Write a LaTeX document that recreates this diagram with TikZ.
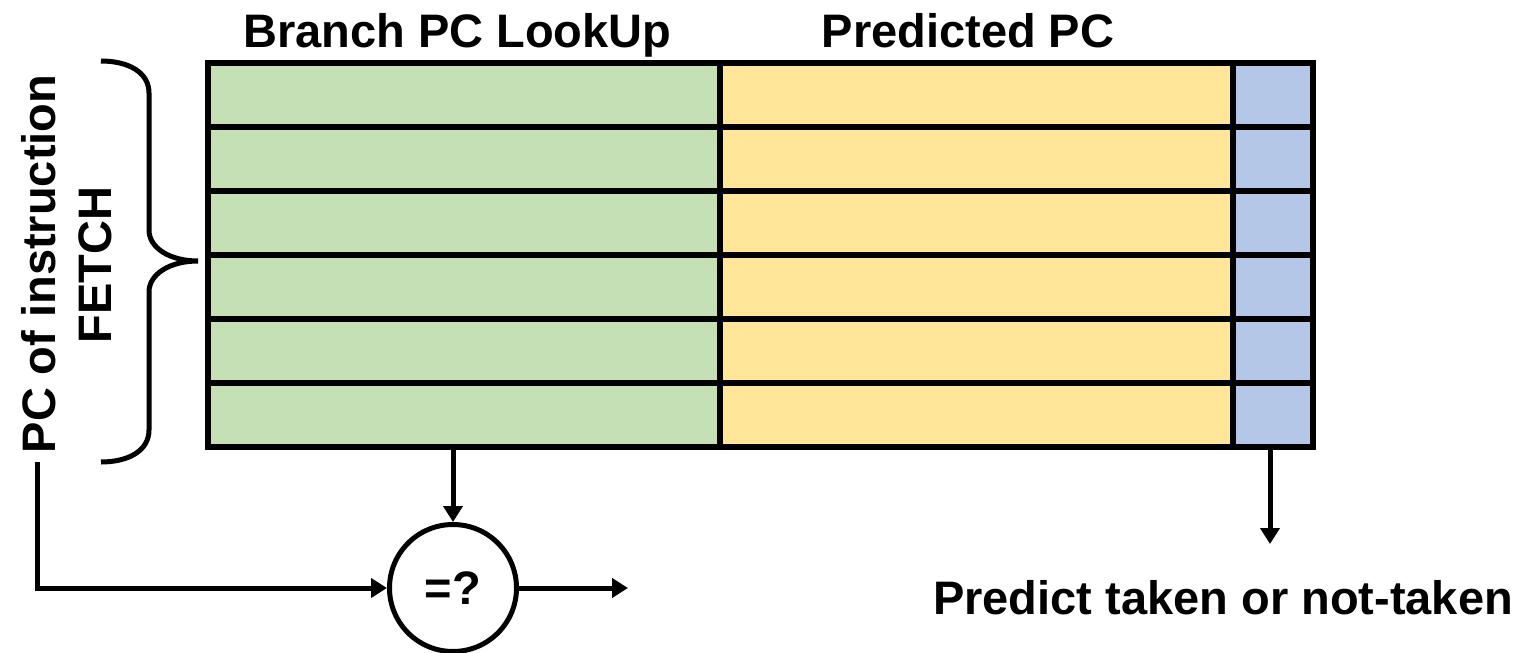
\documentclass[tikz,border=0pt]{standalone}
\usepackage{fontspec}
\setmainfont{Liberation Sans}
\usetikzlibrary{arrows.meta,calc}
\definecolor{cgreen}{HTML}{C5E0B4}
\definecolor{cyellow}{HTML}{FFE699}
\definecolor{cblue}{HTML}{B4C7E7}
\tikzset{
  cell/.style={draw=black, line width=5.5pt, inner sep=0pt, minimum height=64pt},
  lbl/.style={font=\fontsize{47}{55}\selectfont\bfseries, inner sep=0pt},
  conn/.style={line width=5pt, -{Triangle[width=19pt,length=16pt]}},
}
\begin{document}
\begin{tikzpicture}[x=1pt,y=-1pt]
\useasboundingbox (0,0) rectangle (1526,653);
% table cells
\foreach \i/\y in {1/95,2/159,3/223,4/287,5/351,6/415}{
  \node[cell, fill=cgreen, minimum width=512pt] (g\i) at (464,\y) {};
  \node[cell, fill=cyellow, minimum width=513pt] (y\i) at (976.5,\y) {};
  \node[cell, fill=cblue, minimum width=80pt] (b\i) at (1273,\y) {};
}
% headers
\node[lbl, anchor=base west] (h1) at (243,47) {Branch PC LookUp};
\node[lbl, anchor=base] (h2) at (968,47) {Predicted PC};
% brace
\draw[line width=5pt] (101,61) .. controls (128,61) and (149,72) .. (149,93)
  -- (149,230) .. controls (149,248) and (170,261) .. (198,261)
  .. controls (170,261) and (149,274) .. (149,292)
  -- (149,430) .. controls (149,451) and (128,462) .. (101,462);
% vertical labels
\node[lbl, rotate=90, anchor=base] (pc) at (55,264) {PC of instruction};
\node[lbl, rotate=90, anchor=base] (fetch) at (111,265) {FETCH};
% comparator
\node[circle, draw=black, line width=5pt, minimum size=127pt, inner sep=0pt, lbl] (cmp) at (453,588) {=?};
\coordinate (pcstart) at (37,462);
\coordinate (cmpout) at (628,588);
\coordinate (btip) at (1270,544);
\draw[conn] (pcstart) |- (cmp.west);
\draw[conn] (g6.south -| cmp.north) -- (cmp.north);
\draw[conn] (cmp.east) -- (cmpout);
\draw[conn] (b6.south -| btip) -- (btip);
\node[lbl, anchor=base west] (pred) at (933,614) {Predict taken or not-taken};
\end{tikzpicture}
\end{document}
